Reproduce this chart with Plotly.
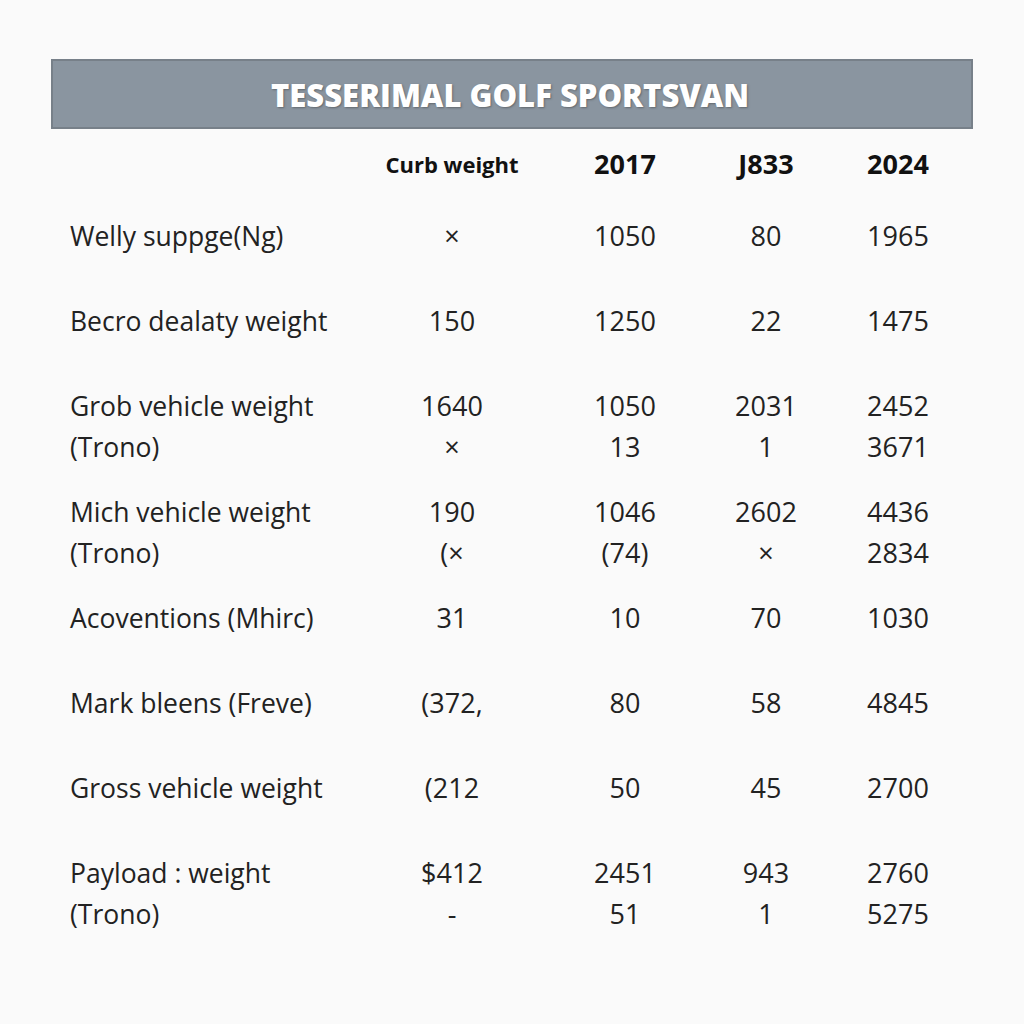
import plotly.graph_objects as go

# ---- data ----
title = "TESSERIMAL GOLF SPORTSVAN"
columns = ["Curb weight", "2017", "J833", "2024"]
row_labels = [
    "Welly suppge(Ng)",
    "Becro dealaty weight",
    "Grob vehicle weight\n(Trono)",
    "Mich vehicle weight\n(Trono)",
    "Acoventions (Mhirc)",
    "Mark bleens (Freve)",
    "Gross vehicle weight",
    "Payload : weight\n(Trono)",
]
curb_weight = ["×", "150", "1640\n×", "190\n(×", "31", "(372,", "(212", "$412\n-"]
y2017 = ["1050", "1250", "1050\n13", "1046\n(74)", "10", "80", "50", "2451\n51"]
j833 = ["80", "22", "2031\n1", "2602\n×", "70", "58", "45", "943\n1"]
y2024 = ["1965", "1475", "2452\n3671", "4436\n2834", "1030", "4845", "2700", "2760\n5275"]
value_columns = [curb_weight, y2017, j833, y2024]

# ---- layout constants (pixel space) ----
W = H = 1024
label_x = 70
col_x = [452, 625, 766, 898]
header_y = 167
first_row_y = 239
row_pitch = 85
extra_per_line = 21
line_gap = 41
FONT = "Open Sans"
TXT = "#222222"

# compute line positions for each row
row_y = []
y = first_row_y
for lab in row_labels:
    row_y.append(y)
    n = len(lab.split("\n"))
    y += row_pitch + extra_per_line * (n - 1)


def explode(cells):
    texts, ys = [], []
    for i, c in enumerate(cells):
        for k, line in enumerate(c.split("\n")):
            texts.append(line)
            ys.append(row_y[i] + k * line_gap)
    return texts, ys


fig = go.Figure()

# title bar
fig.add_shape(type="rect", x0=52, x1=972, y0=60, y1=128, xref="x", yref="y",
              fillcolor="#8a95a0", line=dict(color="#778089", width=2), layer="below")
fig.add_annotation(x=510, y=95, xref="x", yref="y", text=title, showarrow=False,
                   font=dict(family=FONT, size=31, color="white", weight=800,
                             shadow="1px 1px 2px rgba(60,60,60,0.5)"))

# header row
fig.add_trace(go.Scatter(
    x=col_x, y=[header_y] * len(columns), mode="text",
    text=[f"<b>{c}</b>" for c in columns],
    textfont=dict(family=FONT, size=[22, 27, 27, 27], color="#111111"),
    textposition="middle center", hoverinfo="skip", showlegend=False))

# row labels
t, ys = explode(row_labels)
fig.add_trace(go.Scatter(
    x=[label_x] * len(t), y=ys, mode="text", text=t,
    textfont=dict(family=FONT, size=26.5, color=TXT),
    textposition="middle right", hoverinfo="skip", showlegend=False))

# value columns
for cx, cells in zip(col_x, value_columns):
    t, ys = explode(cells)
    fig.add_trace(go.Scatter(
        x=[cx] * len(t), y=ys, mode="text", text=t,
        textfont=dict(family=FONT, size=27, color=TXT),
        textposition="middle center", hoverinfo="skip", showlegend=False))

fig.update_layout(
    width=W, height=H, margin=dict(l=0, r=0, t=0, b=0),
    paper_bgcolor="#fafafa", plot_bgcolor="#fafafa",
    xaxis=dict(range=[0, W], visible=False, fixedrange=True),
    yaxis=dict(range=[H, 0], visible=False, fixedrange=True),
)

fig.write_html("out.html", config={"displayModeBar": False},
               post_script="document.body.style.margin='0';document.body.style.background='#fafafa';")
